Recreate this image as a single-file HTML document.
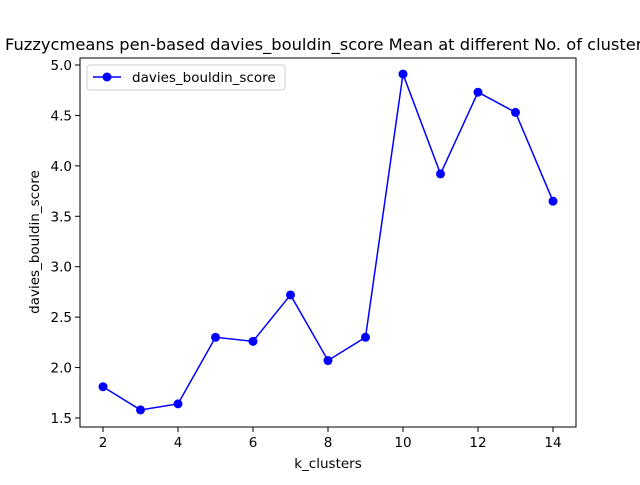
<!DOCTYPE html>
<html><head><meta charset="utf-8"><style>
body{margin:0;background:#fff;}
svg{font-family:"DejaVu Sans","Liberation Sans",sans-serif;}
</style></head><body>
<svg id="chart" width="640" height="480">
<rect width="640" height="480" fill="#fff"/>
<text x="328" y="50" text-anchor="middle" font-size="16.3">Fuzzycmeans pen-based davies_bouldin_score Mean at different No. of clusters</text>
<g id="axes"></g>
<text x="328" y="468" text-anchor="middle" font-size="13.5">k_clusters</text>
<text transform="translate(39,242) rotate(-90)" text-anchor="middle" font-size="13.5">davies_bouldin_score</text>
</svg>
<script>
const categories=[2,3,4,5,6,7,8,9,10,11,12,13,14];
const values=[1.81,1.58,1.64,2.30,2.26,2.72,2.07,2.30,4.91,3.92,4.73,4.53,3.65];
const xTicks=[2,4,6,8,10,12,14];
const yTicks=[1.5,2.0,2.5,3.0,3.5,4.0,4.5,5.0];
const L=80,R=576,T=58,B=427;
const xs=v=>103+(v-2)*37.5;
const ys=v=>418-(v-1.5)*100.86;
const g=document.getElementById('axes');
const NS='http://www.w3.org/2000/svg';
function mk(t,a){const e=document.createElementNS(NS,t);for(const k in a)e.setAttribute(k,a[k]);g.appendChild(e);return e;}
xTicks.forEach(v=>{
 const l=mk('line',{x1:xs(v),x2:xs(v),y1:B,y2:B+5,stroke:'#000'});
 
 
 const t=mk('text',{x:xs(v),y:B+20,'text-anchor':'middle','font-size':'13.5'});t.textContent=v;
 
 
});
yTicks.forEach(v=>{
 const l=mk('line',{x1:L-5,x2:L,y1:ys(v),y2:ys(v),stroke:'#000'});
 
 
 const t=mk('text',{x:L-8,y:ys(v)+5,'text-anchor':'end','font-size':'13.5'});t.textContent=v.toFixed(1);
 
 
});
const p=mk('polyline',{points:categories.map((c,i)=>xs(c)+','+ys(values[i])).join(' '),fill:'none',stroke:'#0000ff','stroke-width':1.5});


categories.forEach((c,i)=>{
 const d=mk('circle',{cx:xs(c),cy:ys(values[i]),r:4.5,fill:'#0000ff'});
 
 
});
const f=mk('rect',{x:L,y:T,width:R-L,height:B-T,fill:'none',stroke:'#000','stroke-width':1});


const lb=mk('rect',{x:87,y:65,width:198,height:25,rx:3,fill:'#fff',stroke:'#ccc'});


const ll=mk('line',{x1:93,x2:121,y1:77,y2:77,stroke:'#0000ff','stroke-width':1.5});


const lc=mk('circle',{cx:107,cy:77,r:4.5,fill:'#0000ff'});


const lt=mk('text',{x:132,y:82,'font-size':'13.5'});lt.textContent='davies_bouldin_score';


</script>
</body></html>
